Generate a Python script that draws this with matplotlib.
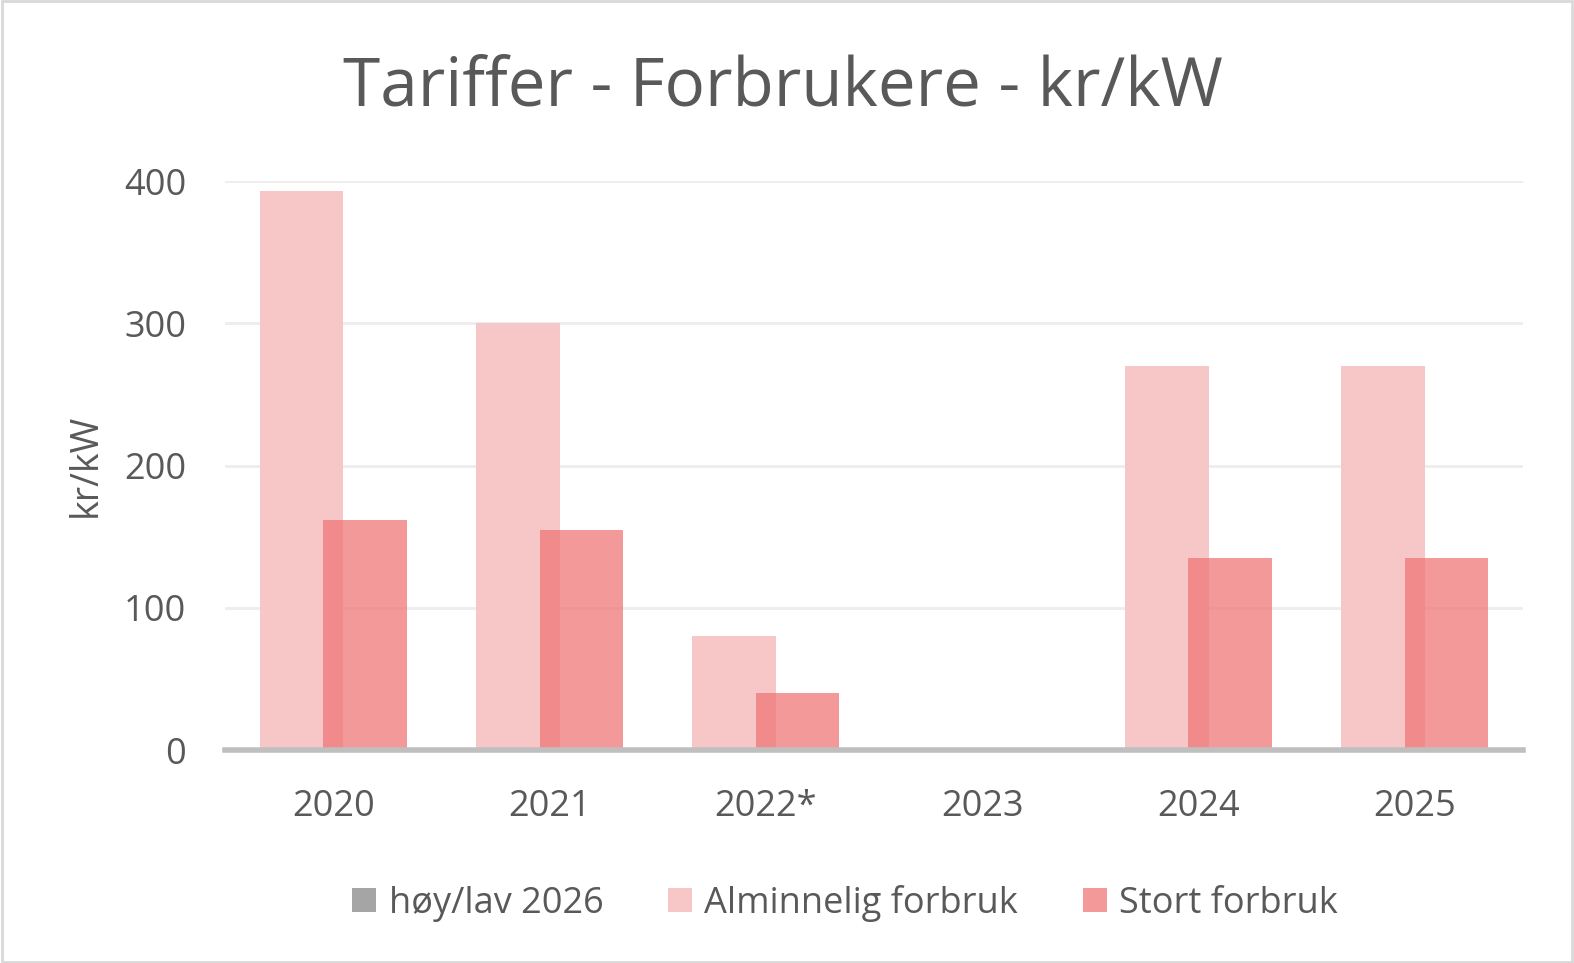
import numpy as np
import matplotlib.pyplot as plt
from matplotlib.patches import Rectangle

# data
years = ["2020", "2021", "2022*", "2023", "2024", "2025"]
hoy_lav_2026 = [0, 0, 0, 0, 0, 0]
alminnelig = [393, 300, 80, 0, 270, 270]
stort = [162, 155, 40, 0, 135, 135]

plt.rcParams['font.family'] = ['Open Sans', 'DejaVu Sans']
txt = "#595959"

fig = plt.figure(figsize=(15.74, 9.63), dpi=100)
ax = fig.add_axes([0.143, 0.2211, 0.8246, 0.5909])

x = np.arange(len(years))
w = 0.386
off = 0.1465

ax.bar(x - off, hoy_lav_2026, w, color="#A5A5A5", linewidth=0, label="høy/lav 2026")
ax.bar(x - off, alminnelig, w, color="#F7C7C8", linewidth=0, label="Alminnelig forbruk", zorder=2)
ax.bar(x + off, stort, w, color=(240/255, 116/255, 117/255), alpha=0.73, linewidth=0,
       label="Stort forbruk", zorder=3)

ax.set_xlim(-0.5, len(years) - 0.5)
ax.set_ylim(0, 400)
ax.set_yticks([0, 100, 200, 300, 400])
ax.set_xticks(x)
ax.set_xticklabels(years)
ax.yaxis.grid(True, color="#EDEDED", linewidth=2)
ax.set_axisbelow(True)
for s in ["top", "right", "left"]:
    ax.spines[s].set_visible(False)
ax.spines["bottom"].set_color("#BFBFBF")
ax.spines["bottom"].set_linewidth(4)
ax.spines["bottom"].set_zorder(4)
ax.tick_params(axis="both", length=0, labelsize=26, colors=txt)
ax.tick_params(axis="x", pad=28)
ax.tick_params(axis="y", pad=28)

ax.set_ylabel("kr/kW", fontsize=27, color=txt, labelpad=14)
fig.text(0.4975, 0.909, "Tariffer - Forbrukere - kr/kW", ha="center", va="center",
         fontsize=48.5, color=txt)

leg = fig.legend(loc="center", bbox_to_anchor=(0.537, 0.062), ncol=3, frameon=False,
                 fontsize=26, handlelength=0.65, handleheight=0.65, handletextpad=0.35,
                 columnspacing=1.8, labelcolor=txt)

fig.patches.append(Rectangle((0.001, 0.001), 0.998, 0.998, transform=fig.transFigure,
                             fill=False, edgecolor="#D9D9D9", linewidth=2))

fig.savefig("out.png", dpi=100)
